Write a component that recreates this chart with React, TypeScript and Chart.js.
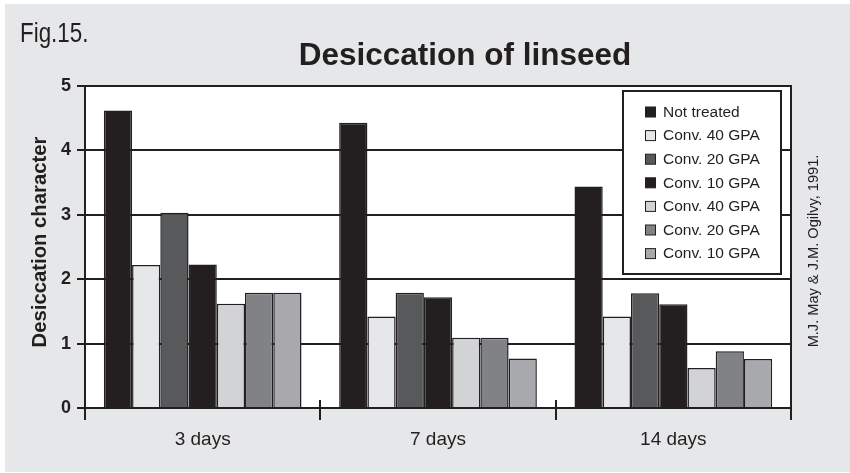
import React, { useEffect, useRef } from "react";
import { Chart, registerables } from "chart.js";

Chart.register(...registerables);

const categories = ["3 days", "7 days", "14 days"];
const seriesLabels = [
  "Not treated",
  "Conv. 40 GPA",
  "Conv. 20 GPA",
  "Conv. 10 GPA",
  "Conv. 40 GPA",
  "Conv. 20 GPA",
  "Conv. 10 GPA",
];
const notTreated = [4.62, 4.43, 3.44];
const conv40a = [2.22, 1.42, 1.42];
const conv20a = [3.03, 1.79, 1.78];
const conv10a = [2.23, 1.72, 1.61];
const conv40b = [1.62, 1.09, 0.62];
const conv20b = [1.79, 1.09, 0.88];
const conv10b = [1.79, 0.77, 0.76];
const seriesValues = [notTreated, conv40a, conv20a, conv10a, conv40b, conv20b, conv10b];
const seriesColors = ["#231f20", "#e6e7e8", "#58595b", "#231f20", "#d1d3d4", "#808285", "#a7a9ac"];

const titleText = "Desiccation of linseed";
const figText = "Fig.15.";
const yTitleText = "Desiccation character";
const creditText = "M.J. May & J.M. Ogilvy, 1991.";

const INK = "#231f20";
const BG = "#e6e7e8";
const SANS = '"Liberation Sans", Arial, Helvetica, sans-serif';

const figPlugin = {
  id: "figPlugin",
  beforeDraw(chart: any) {
    const { ctx, width, height, chartArea: ca } = chart;
    ctx.save();
    ctx.fillStyle = "#ffffff";
    ctx.fillRect(0, 0, width, height);
    ctx.fillStyle = BG;
    ctx.fillRect(5, 4, width - 5, height - 5);
    ctx.fillStyle = "#ffffff";
    ctx.fillRect(ca.left, ca.top, ca.right - ca.left, ca.bottom - ca.top);
    ctx.restore();
  },
  afterDatasetsDraw(chart: any) {
    const { ctx, chartArea: ca } = chart;
    ctx.save();
    // legend box
    const bw = 158;
    const bh = 183;
    const bx = ca.right - 10 - bw;
    const by = ca.top + 5;
    ctx.fillStyle = "#ffffff";
    ctx.fillRect(bx, by, bw, bh);
    ctx.strokeStyle = INK;
    ctx.lineWidth = 2;
    ctx.strokeRect(bx, by, bw, bh);
    ctx.font = `15.5px ${SANS}`;
    ctx.textBaseline = "middle";
    ctx.textAlign = "left";
    chart.data.datasets.forEach((ds: any, i: number) => {
      const cy = by + 21 + i * 23.6;
      ctx.fillStyle = ds.backgroundColor;
      ctx.fillRect(bx + 22.5, cy - 5, 10, 10);
      ctx.lineWidth = 1;
      ctx.strokeStyle = INK;
      ctx.strokeRect(bx + 22.5, cy - 5, 10, 10);
      ctx.fillStyle = INK;
      ctx.fillText(ds.label, bx + 40, cy + 0.5);
    });
    ctx.restore();
  },
  afterDraw(chart: any) {
    const { ctx, chartArea: ca } = chart;
    ctx.save();
    ctx.strokeStyle = INK;
    ctx.lineWidth = 2;
    // right border of plot
    ctx.beginPath();
    ctx.moveTo(ca.right, ca.top - 1);
    ctx.lineTo(ca.right, ca.bottom + 12);
    ctx.stroke();
    // upward parts of category boundary ticks
    const n = chart.data.labels.length;
    const w = (ca.right - ca.left) / n;
    for (let i = 1; i < n; i++) {
      const x = Math.round(ca.left + i * w);
      ctx.beginPath();
      ctx.moveTo(x, ca.bottom - 8);
      ctx.lineTo(x, ca.bottom);
      ctx.stroke();
    }
    ctx.fillStyle = INK;
    // title
    ctx.font = `bold 31.5px ${SANS}`;
    ctx.textAlign = "center";
    ctx.textBaseline = "alphabetic";
    ctx.fillText(titleText, 465, 65);
    // fig label (condensed)
    ctx.save();
    ctx.translate(20, 42);
    ctx.scale(0.8, 1);
    ctx.font = `28px ${SANS}`;
    ctx.textAlign = "left";
    ctx.fillText(figText, 0, 0);
    ctx.restore();
    // y axis title
    ctx.save();
    ctx.translate(46, 242);
    ctx.rotate(-Math.PI / 2);
    ctx.font = `bold 20.3px ${SANS}`;
    ctx.textAlign = "center";
    ctx.fillText(yTitleText, 0, 0);
    ctx.restore();
    // credit
    ctx.save();
    ctx.translate(818, 251);
    ctx.rotate(-Math.PI / 2);
    ctx.font = `14.6px ${SANS}`;
    ctx.textAlign = "center";
    ctx.fillText(creditText, 0, 0);
    ctx.restore();
    ctx.restore();
  },
};

export default function App() {
  const ref = useRef<HTMLCanvasElement | null>(null);
  useEffect(() => {
    document.body.style.margin = "0";
    const canvas = ref.current;
    if (!canvas) return;
    const chart = new Chart(canvas, {
      type: "bar",
      data: {
        labels: categories,
        datasets: seriesLabels.map((label, i) => ({
          label,
          data: seriesValues[i],
          backgroundColor: seriesColors[i],
          borderColor: INK,
          borderWidth: 1.5,
          categoryPercentage: 0.84,
          barPercentage: 1,
        })),
      },
      options: {
        responsive: false,
        animation: false,
        devicePixelRatio: 1,
        layout: { padding: { top: 86, right: 59, bottom: 0, left: 0 } },
        plugins: {
          legend: { display: false },
          title: { display: false },
          tooltip: { enabled: false },
        },
        scales: {
          x: {
            grid: {
              display: true,
              drawOnChartArea: false,
              offset: true,
              tickLength: 12,
              color: INK,
              lineWidth: 2,
            },
            border: { display: true, color: INK, width: 2 },
            ticks: {
              color: INK,
              font: { family: SANS, size: 19 },
              padding: 8,
            },
            afterFit: (s: any) => {
              s.height = 65;
            },
          },
          y: {
            min: 0,
            max: 5,
            ticks: {
              stepSize: 1,
              color: INK,
              font: { family: SANS, size: 18, weight: "bold" },
              padding: 6,
            },
            grid: { color: INK, lineWidth: 2, tickLength: 8 },
            border: { display: true, color: INK, width: 2 },
            afterFit: (s: any) => {
              s.width = 85;
            },
          },
        },
      },
      plugins: [figPlugin],
    });
    return () => chart.destroy();
  }, []);
  return (
    <div style={{ width: 850, height: 473 }}>
      <canvas ref={ref} width={850} height={473} style={{ display: "block" }} />
    </div>
  );
}
